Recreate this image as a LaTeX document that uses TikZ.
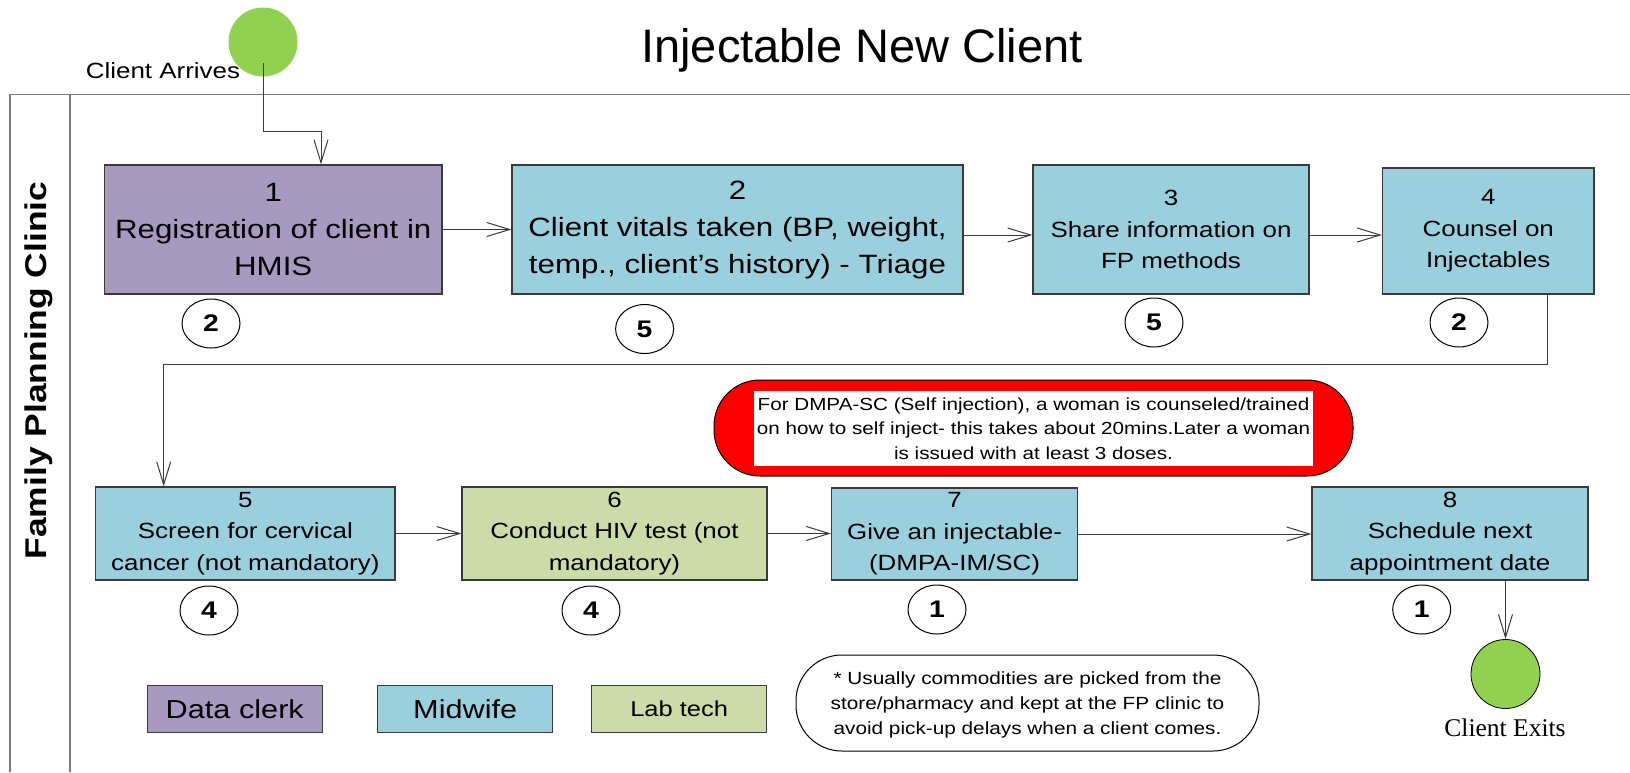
\documentclass[tikz,border=0pt]{standalone}
\usepackage{fontspec}
\setmainfont{Liberation Sans}
\newfontfamily\arialx[FakeStretch=1.18]{Liberation Sans}
\newfontfamily\timesx{Liberation Serif}
\usetikzlibrary{arrows.meta,shapes.geometric}
\definecolor{clerk}{HTML}{A899C0}
\definecolor{midwife}{HTML}{9ACFDD}
\definecolor{labtech}{HTML}{CDDBA9}
\definecolor{startgreen}{HTML}{92D050}
\definecolor{linegray}{HTML}{3A3A3A}
\definecolor{poolgray}{HTML}{7A7A7A}
\newcommand{\setfs}[2]{\fontsize{#1}{#2}\selectfont}
\begin{document}
\begin{tikzpicture}[x=1pt,y=-1pt,
  stepbox/.style={draw=linegray, line width=1.2pt, inner sep=0pt, align=center,
    font=\arialx\setfs{22}{31.5}},
  bigtext/.style={font=\arialx\setfs{26.5}{37}},
  dur/.style={ellipse, draw=black, line width=1pt, minimum width=58pt,
    minimum height=49pt, inner sep=0pt, font=\arialx\bfseries\setfs{24}{28}},
  arr/.style={draw=linegray, line width=1pt, -{Straight Barb[length=23pt,width=14pt]}},
  pool/.style={draw=poolgray, line width=1.5pt},
  endpoint/.style={circle, fill=startgreen, minimum size=69pt, inner sep=0pt},
  legend/.style={stepbox, minimum width=175pt, minimum height=47pt}
]
\useasboundingbox (0,0) rectangle (1630,772);

% pool
\draw[pool] (10,772) -- (10,94.3) -- (1630,94.3);
\draw[pool] (70,94.3) -- (70,772);
\node[rotate=90, anchor=base, font=\arialx\bfseries\setfs{30}{36}] (lane) at (46.7,370.5) {Family Planning Clinic};

% title
\node[anchor=base, font=\setfs{47}{56}] (title) at (862,62) {Injectable New Client};

% start
\node[endpoint] (start) at (263,42) {};
\node[anchor=base, font=\arialx\setfs{22}{26}] (arrlabel) at (163,78) {Client Arrives};

% steps row 1
\node[stepbox, bigtext, fill=clerk, minimum width=337.5pt, minimum height=129pt] (b1) at (273.25,229.5)
  {1\\Registration of client in\\HMIS};
\node[stepbox, bigtext, fill=midwife, minimum width=451pt, minimum height=129pt] (b2) at (737.5,229.5)
  {2\\Client vitals taken (BP, weight,\\temp., client’s history) - Triage};
\node[stepbox, fill=midwife, minimum width=276pt, minimum height=129pt] (b3) at (1171,229.5)
  {3\\Share information on\\FP methods};
\node[stepbox, fill=midwife, minimum width=211.5pt, minimum height=126pt] (b4) at (1488.25,231)
  {4\\Counsel on\\Injectables};

% steps row 2
\node[stepbox, fill=midwife, minimum width=299.3pt, minimum height=93pt] (b5) at (245.35,533.5)
  {5\\Screen for cervical\\cancer (not mandatory)};
\node[stepbox, fill=labtech, minimum width=305pt, minimum height=93pt] (b6) at (614.5,533.5)
  {6\\Conduct HIV test (not\\mandatory)};
\node[stepbox, fill=midwife, minimum width=246pt, minimum height=92pt] (b7) at (954.55,534)
  {7\\Give an injectable-\\(DMPA-IM/SC)};
\node[stepbox, fill=midwife, minimum width=276pt, minimum height=93pt] (b8) at (1450,533.5)
  {8\\Schedule next\\appointment date};

% durations
\node[dur] (d1) at (211,323.5) {2};
\node[dur] (d2) at (644.6,329) {5};
\node[dur] (d3) at (1154,322.5) {5};
\node[dur] (d4) at (1459,322.5) {2};
\node[dur] (d5) at (209,610.5) {4};
\node[dur] (d6) at (591,610.5) {4};
\node[dur] (d7) at (937,609.5) {1};
\node[dur] (d8) at (1421.7,609.5) {1};

% callout
\node[fill=red, draw=black, line width=1pt, rounded corners=46pt, minimum width=639pt,
  minimum height=96pt, inner sep=0pt] (callout) at (1033.5,428) {};
\node[fill=white, inner sep=0pt, minimum width=559pt, minimum height=75pt, align=center,
  font=\arialx\setfs{17.5}{24.5}] (calltext) at (1033.5,428.5)
  {For DMPA-SC (Self injection), a woman is counseled/trained\\on how to self inject- this takes about 20mins.Later a woman\\is issued with at least 3 doses.};

% note
\node[draw=black, line width=1pt, fill=white, rounded corners=46pt, minimum width=463pt,
  minimum height=96pt, inner sep=0pt, align=center, text depth=0pt,
  font=\arialx\setfs{17.6}{25}] (note) at (1027.5,703)
  {* Usually commodities are picked from the\\store/pharmacy and kept at the FP clinic to\\avoid pick-up delays when a client comes.};

% legend
\node[legend, fill=clerk, font=\arialx\setfs{26}{30}] (lclerk) at (234.8,709.2) {Data clerk};
\node[legend, fill=midwife, font=\arialx\setfs{26}{30}] (lmid) at (465.2,709.2) {Midwife};
\node[legend, fill=labtech, font=\arialx\setfs{21.6}{26}] (llab) at (679.2,709.2) {Lab tech};

% exit
\node[endpoint, draw=black, line width=0.8pt] (exit) at (1505.5,674) {};
\node[anchor=base, font=\timesx\setfs{25.5}{30}] (exitlabel) at (1505,736.7) {Client Exits};

% connectors
\draw[arr] ([yshift=-21pt]start.center) |- ([xshift=47.75pt,yshift=33.3pt]b1.north) -- ([xshift=47.75pt]b1.north);
\draw[arr] (b1.east) -- (b2.west);
\draw[arr] ([yshift=-5.5pt]b2.east) -- ([yshift=-5.5pt]b3.west);
\draw[arr] ([yshift=-5.5pt]b3.east) -- ([yshift=-5.5pt]b3.east -| b4.west);
\draw[arr] ([xshift=58.75pt]b4.south) -- ++(0,70) -| ([xshift=-81.65pt]b5.north);
\draw[arr] (b5.east) -- (b6.west);
\draw[arr] (b6.east) -- (b6.east -| b7.west);
\draw[arr] (b7.east) -- (b7.east -| b8.west);
\draw[arr] (b8.south -| exit.north) -- (exit.north);
\end{tikzpicture}
\end{document}
